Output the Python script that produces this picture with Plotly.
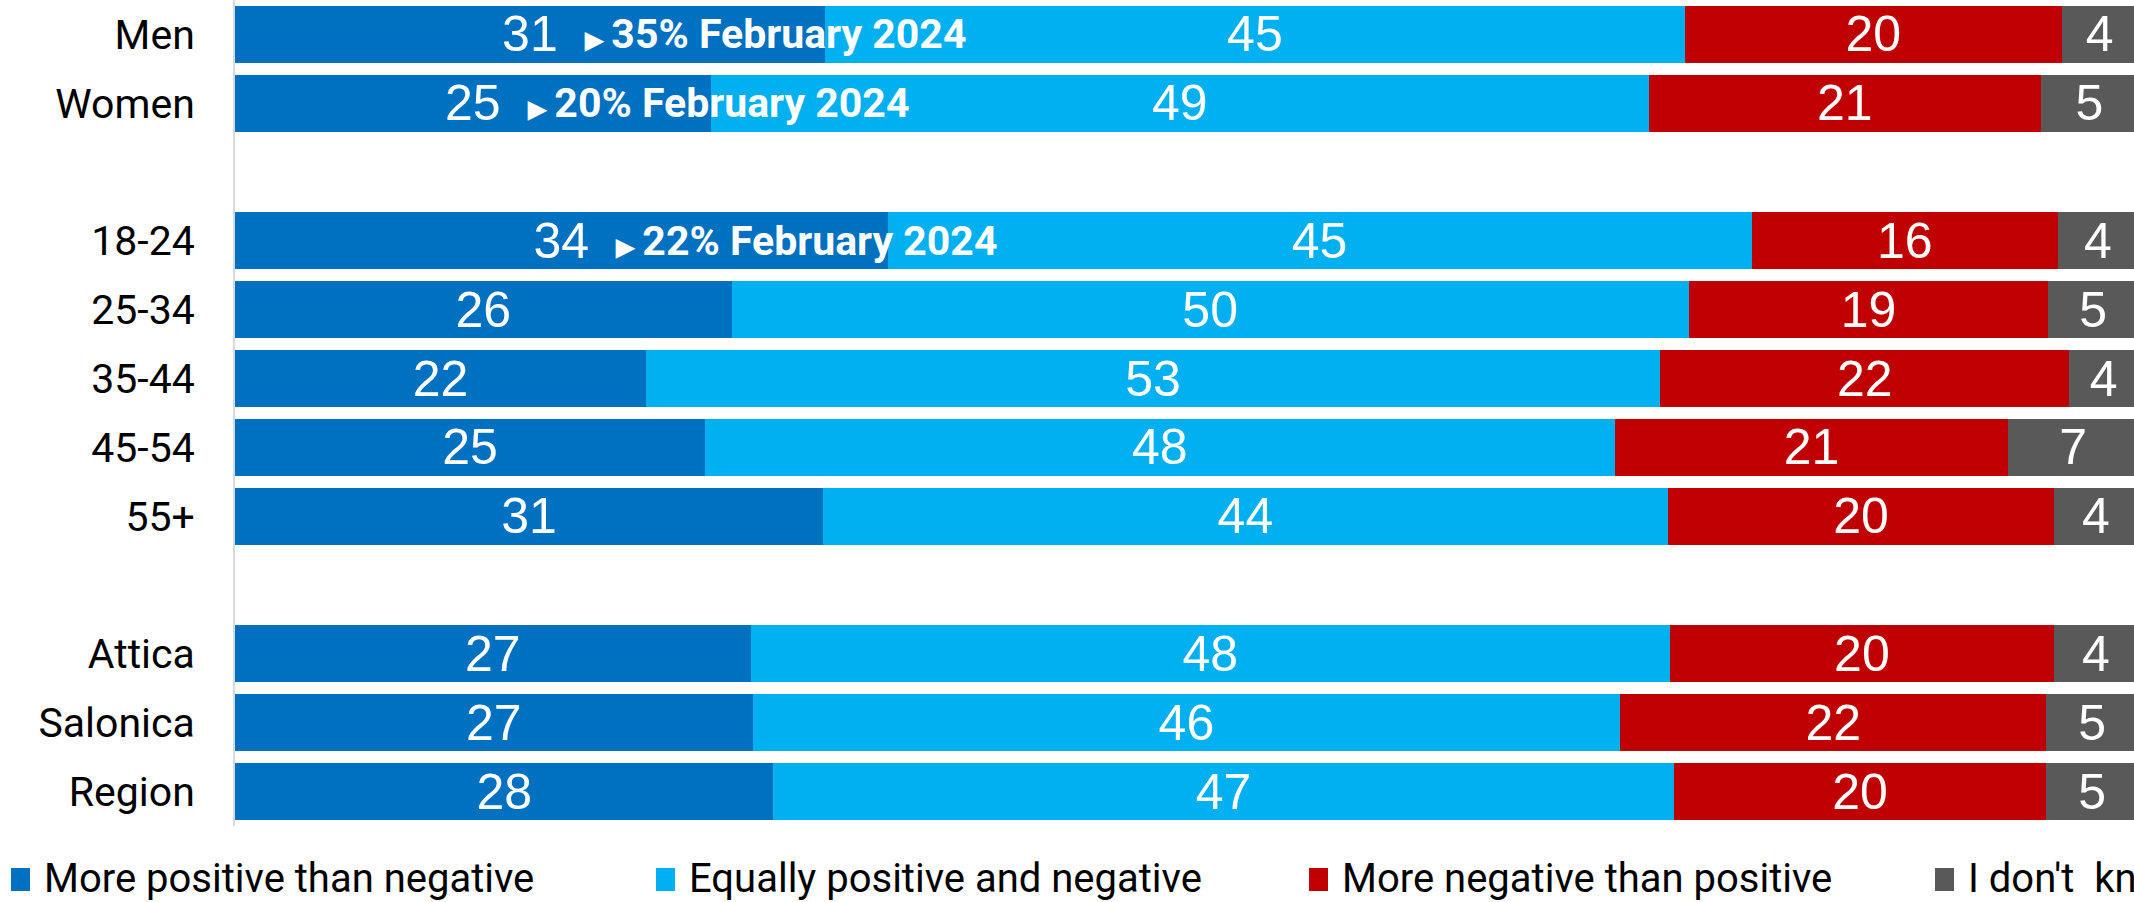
import plotly.graph_objects as go

categories = ["Men", "Women", " ", "18-24", "25-34", "35-44", "45-54", "55+", "  ", "Attica", "Salonica", "Region"]
more_positive = [31, 25, None, 34.3, 26.1, 21.6, 24.7, 30.9, None, 27.1, 27.2, 28.3]
equally = [45.2, 49.3, None, 45.4, 50.3, 53.3, 47.8, 44.4, None, 48.3, 45.6, 47.3]
more_negative = [19.8, 20.6, None, 16.1, 18.9, 21.5, 20.7, 20.3, None, 20.2, 22.4, 19.6]
dont_know = [4, 5.1, None, 4.2, 4.7, 3.6, 6.8, 4.4, None, 4.4, 4.8, 4.8]

series_names = ["More positive than negative", "Equally positive and negative",
                "More negative than positive", "I don't\u00a0 know"]
series_colors = ["#0070C0", "#00B0F0", "#C00000", "#595959"]

feb_categories = ["Men", "Women", "18-24"]
feb_values = [35, 20, 22]
feb_label = "February 2024"

W, H = 2134, 902
ML, MR, MT, MB = 235, 0, 0, 76
PW = W - ML - MR
PH = H - MT - MB

FONT = "Roboto, Liberation Sans, Arial, sans-serif"

fig = go.Figure()
for name, vals, col in zip(series_names, [more_positive, equally, more_negative, dont_know], series_colors):
    fig.add_trace(go.Bar(
        y=categories, x=vals, name=name, orientation="h",
        marker=dict(color=col, line=dict(width=0)),
        texttemplate="%{x:.0f}", textposition="inside", insidetextanchor="middle",
        textangle=0, constraintext="none",
        insidetextfont=dict(family="Liberation Sans, Arial, sans-serif", size=50, color="white"),
        hoverinfo="skip", showlegend=False,
    ))

for cat, v in zip(feb_categories, feb_values):
    p = more_positive[categories.index(cat)]
    fig.add_annotation(
        x=p / 2, y=cat, xref="x", yref="y", xanchor="left", yanchor="middle",
        xshift=52, showarrow=False,
        text=f"<span style='font-size:24px'>\u25B6</span>\u2009{v}% {feb_label}",
        font=dict(family=FONT, size=41, color="white", weight="bold"),
    )

# manual legend along the bottom (overflows the right edge like the original)
legend_px = [11, 656, 1309, 1935]
legend_y_px = 879
for name, col, lx in zip(series_names, series_colors, legend_px):
    fig.add_shape(type="rect", xref="paper", yref="paper",
                  x0=(lx - ML) / PW, x1=(lx + 19 - ML) / PW,
                  y0=(H - MB - legend_y_px - 12) / PH,
                  y1=(H - MB - legend_y_px + 11) / PH,
                  fillcolor=col, line=dict(width=0), layer="above")
    fig.add_annotation(x=(lx + 31 - ML) / PW, y=(H - MB - legend_y_px) / PH,
                       xref="paper", yref="paper", xanchor="left", yanchor="middle",
                       showarrow=False, text=name,
                       font=dict(family=FONT, size=40, color="black"))

fig.update_layout(
    width=W, height=H, barmode="stack", bargap=0.17,
    margin=dict(l=ML, r=MR, t=MT, b=MB, pad=0, autoexpand=False),
    plot_bgcolor="white", paper_bgcolor="white",
    showlegend=False,
    xaxis=dict(range=[0, 99.8], visible=False, fixedrange=True, automargin=False),
    yaxis=dict(type="category", autorange="reversed", showgrid=False, zeroline=False,
               showline=True, linecolor="#D9D9D9", linewidth=2, automargin=False,
               ticks="", ticklabelstandoff=30,
               tickfont=dict(family=FONT, size=41, color="black")),
)

fig.write_html("out.html", config={"displayModeBar": False},
               post_script="document.body.style.margin='0';document.body.style.overflow='hidden';")
